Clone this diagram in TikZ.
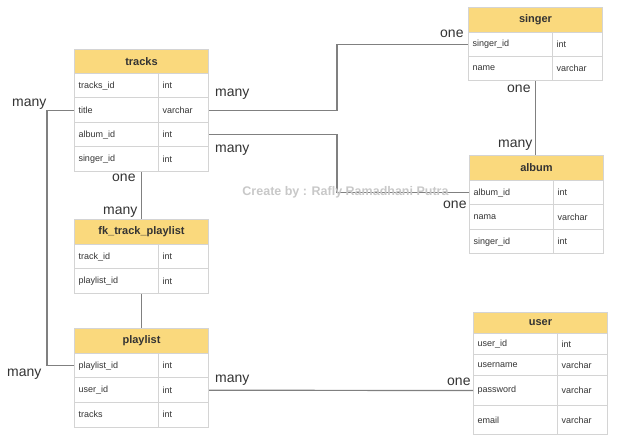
\documentclass[tikz,border=0pt]{standalone}
\usepackage{fontspec}
\setmainfont{Liberation Sans}
\usetikzlibrary{calc}
\definecolor{headfill}{RGB}{250,217,125}
\definecolor{cellline}{RGB}{212,212,212}
\definecolor{relline}{RGB}{128,128,128}
\definecolor{celltext}{RGB}{51,51,51}
\definecolor{markgray}{RGB}{200,200,200}

\tikzset{
	tblhead/.style={draw=cellline, line width=1pt, fill=headfill, anchor=north west,
		inner sep=0pt, minimum width=134pt, minimum height=#1,
		font=\fontsize{11}{11}\selectfont\bfseries, text=celltext},
	tblhead/.default=25pt,
	fld/.style={draw=cellline, line width=1pt, anchor=north west, align=left,
		inner xsep=4pt, inner ysep=0pt, text width=76pt, minimum height=#1,
		font=\fontsize{9}{9}\selectfont, text=celltext},
	fld/.default=24.5pt,
	typ/.style={fld=#1, text width=42pt},
	typ/.default=24.5pt,
	rel/.style={draw=relline, line width=1.2pt},
	card/.style={font=\fontsize{14}{14}\selectfont, text=celltext, inner sep=0pt, anchor=base west}
}

\begin{document}
\begin{tikzpicture}[x=1pt, y=-1pt]
		\useasboundingbox (0,0) rectangle (621,443);
		% tracks
		\node[tblhead=24pt] (tracks) at (74,49) {tracks};
		\node[fld] (trk-id-n) at (74,73) {tracks\_id};
		\node[typ] (trk-id-t) at (158,73) {int};
		\node[fld] (trk-title-n) at (74,97.5) {title};
		\node[typ] (trk-title-t) at (158,97.5) {varchar};
		\node[fld] (trk-album-n) at (74,122) {album\_id};
		\node[typ] (trk-album-t) at (158,122) {int};
		\node[fld] (trk-singer-n) at (74,146.5) {singer\_id};
		\node[typ] (trk-singer-t) at (158,146.5) {int};
		% fk_track_playlist
		\node[tblhead] (fk) at (74,219) {fk\_track\_playlist};
		\node[fld] (fk-trk-n) at (74,244) {track\_id};
		\node[typ] (fk-trk-t) at (158,244) {int};
		\node[fld] (fk-pl-n) at (74,268.5) {playlist\_id};
		\node[typ] (fk-pl-t) at (158,268.5) {int};
		% playlist
		\node[tblhead] (playlist) at (74,328) {playlist};
		\node[fld] (pl-id-n) at (74,353) {playlist\_id};
		\node[typ] (pl-id-t) at (158,353) {int};
		\node[fld] (pl-user-n) at (74,377.5) {user\_id};
		\node[typ] (pl-user-t) at (158,377.5) {int};
		\node[fld] (pl-trk-n) at (74,402) {tracks};
		\node[typ] (pl-trk-t) at (158,402) {int};
		% singer
		\node[tblhead] (singer) at (468,7) {singer};
		\node[fld=24pt] (sng-id-n) at (468,32) {singer\_id};
		\node[typ=24pt] (sng-id-t) at (552,32) {int};
		\node[fld=24pt] (sng-name-n) at (468,56) {name};
		\node[typ=24pt] (sng-name-t) at (552,56) {varchar};
		% album
		\node[tblhead] (album) at (469,155) {album};
		\node[fld] (alb-id-n) at (469,180) {album\_id};
		\node[typ] (alb-id-t) at (553,180) {int};
		\node[fld] (alb-nama-n) at (469,204.5) {nama};
		\node[typ] (alb-nama-t) at (553,204.5) {varchar};
		\node[fld] (alb-sng-n) at (469,229) {singer\_id};
		\node[typ] (alb-sng-t) at (553,229) {int};
		% user
		\node[tblhead=21pt] (user) at (473,312) {user};
		\node[fld=21pt] (usr-id-n) at (473,333) {user\_id};
		\node[typ=21pt] (usr-id-t) at (557,333) {int};
		\node[fld=21pt] (usr-name-n) at (473,354) {username};
		\node[typ=21pt] (usr-name-t) at (557,354) {varchar};
		\node[fld=30pt] (usr-pass-n) at (473,375) {password};
		\node[typ=30pt] (usr-pass-t) at (557,375) {varchar};
		\node[fld=29pt] (usr-mail-n) at (473,405) {email};
		\node[typ=29pt] (usr-mail-t) at (557,405) {varchar};

		% relations
		\draw[rel] (trk-title-t.east) -- ++(128,0) |- (sng-id-n.west);
		\draw[rel] (trk-album-t.east) -- ++(128,0) |- (alb-id-n.west);
		\draw[rel] (sng-name-n.south -| singer) -- (album.north -| singer);
		\draw[rel] (trk-singer-n.south -| tracks) -- (fk.north);
		\draw[rel] (fk-pl-n.south -| fk) -- (playlist.north);
		\draw[rel] (trk-title-n.west) -- ++(-27,0) |- (pl-id-n.west);
		\draw[rel] (pl-user-t.east) -- (usr-pass-n.west);

		% cardinalities
		\node[card] (c-trk-sng) at (215,97) {many};
		\node[card] (c-sng-trk) at (440,38) {one};
		\node[card] (c-trk-alb) at (215,153) {many};
		\node[card] (c-alb-trk) at (443,209) {one};
		\node[card] (c-sng-alb) at (507,93) {one};
		\node[card] (c-alb-sng) at (498,148) {many};
		\node[card] (c-trk-fk) at (112,182) {one};
		\node[card] (c-fk-trk) at (103,215) {many};
		\node[card] (c-trk-pl) at (12,107) {many};
		\node[card] (c-pl-trk) at (7,377) {many};
		\node[card] (c-pl-usr) at (215,382) {many};
		\node[card] (c-usr-pl) at (447,385) {one};

		\node[font=\fontsize{12.5}{12.5}\selectfont\bfseries, text=markgray] (credit) at (345.5,192) {Create by : Rafly Ramadhani Putra};
\end{tikzpicture}
\end{document}
